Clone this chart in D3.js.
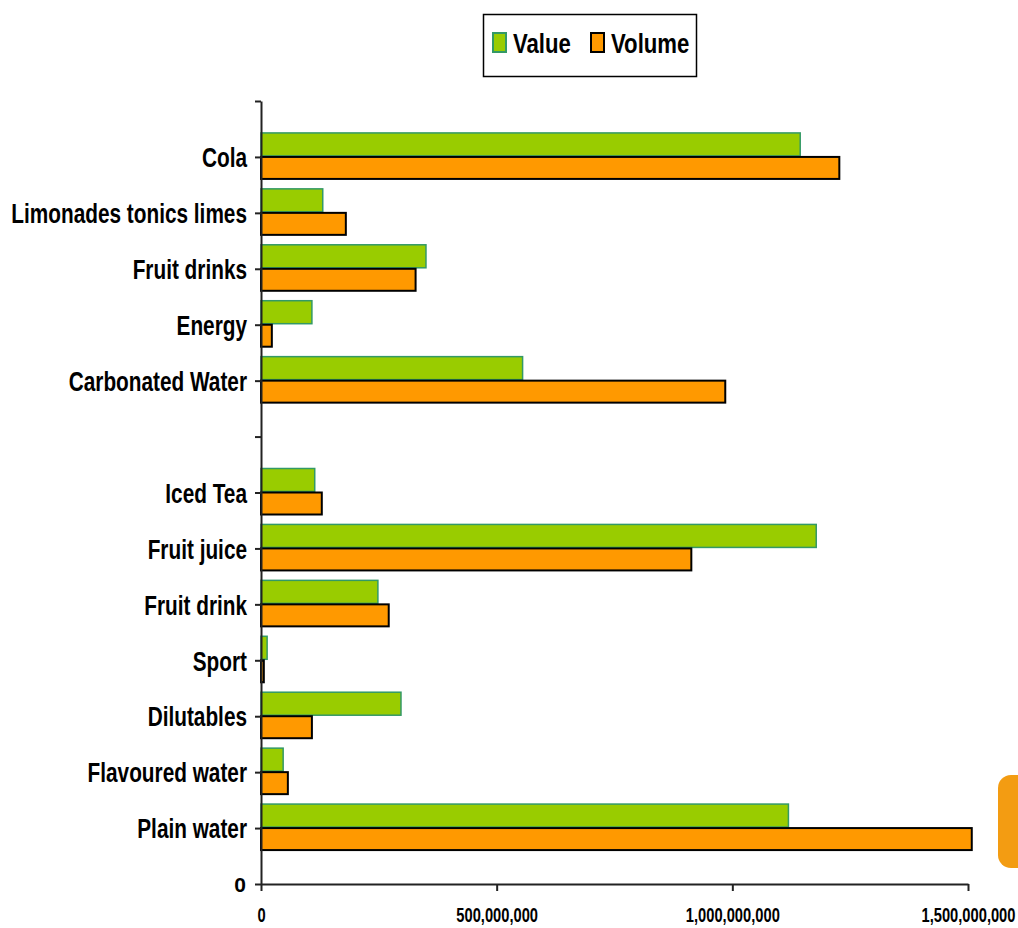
<!DOCTYPE html>
<html>
<head>
<meta charset="utf-8">
<script src="https://cdn.jsdelivr.net/npm/d3@7/dist/d3.min.js"></script>
<style>
  body { margin: 0; background: #fff; }
  text { font-family: "Liberation Sans", Arial, sans-serif; font-weight: bold; fill: #000; }
</style>
</head>
<body>
<svg id="chart" width="1018" height="928"></svg>
<script>
// categories from bottom (position 1) to top (position 13); "" is the empty gap row
var categories = ["Plain water", "Flavoured water", "Dilutables", "Sport", "Fruit drink",
    "Fruit juice", "Iced Tea", "", "Carbonated Water", "Energy", "Fruit drinks",
    "Limonades tonics limes", "Cola"];
var valueSeries = [1119e6, 47e6, 297e6, 13e6, 248e6, 1178e6, 114e6, null,
    555e6, 108e6, 350e6, 131e6, 1144e6];
var volumeSeries = [1508e6, 57e6, 108e6, 6e6, 271e6, 913e6, 129e6, null,
    985e6, 23e6, 328e6, 180e6, 1227e6];
var xTicks = [0, 500e6, 1000e6, 1500e6];
var legendLabels = ["Value", "Volume"];

var svg = d3.select('#chart');

// shrink text horizontally, keeping its anchor
function condense(sel, k) {
    sel.each(function() {
        var w = this.getComputedTextLength();
        d3.select(this).attr('textLength', w * k).attr('lengthAdjust', 'spacingAndGlyphs');
    });
}

var x = d3.scaleLinear().domain([0, 1500e6]).range([261, 968]);
var y = d3.scaleLinear().domain([0, 14]).range([884, 101]);

var rows = categories.map(function(c, i) {
    return {name: c, pos: i + 1, value: valueSeries[i], volume: volumeSeries[i]};
}).filter(function(d) { return d.value !== null; });

// bars
var barH = 23;
svg.append('g').selectAll('rect.value')
    .data(rows).enter().append('rect')
    .attr('x', x(0))
    .attr('y', function(d) { return y(d.pos) - barH - 1; })
    .attr('width', function(d) { return x(d.value) - x(0); })
    .attr('height', barH)
    .attr('fill', '#99cc00')
    .attr('stroke', '#339966')
    .attr('stroke-width', 1.5);

svg.append('g').selectAll('rect.volume')
    .data(rows).enter().append('rect')
    .attr('x', x(0))
    .attr('y', function(d) { return y(d.pos); })
    .attr('width', function(d) { return x(d.volume) - x(0); })
    .attr('height', barH - 1)
    .attr('fill', '#ff9900')
    .attr('stroke', '#000')
    .attr('stroke-width', 2);

// y axis
var yLabels = ["0"].concat(categories, [""]);
var yAxis = svg.append('g')
    .attr('transform', 'translate(' + x(0) + ',0)')
    .call(d3.axisLeft(y)
        .tickValues(d3.range(0, 15))
        .tickSize(6)
        .tickSizeOuter(0)
        .tickPadding(8)
        .tickFormat(function(d) { return yLabels[d]; }));
yAxis.selectAll('text')
    .style('font-size', '27px')
    .attr('dy', '0.36em');
yAxis.selectAll('.tick').filter(function(d) { return d > 0; }).select('text')
    .call(condense, 0.77);
yAxis.selectAll('.tick').filter(function(d) { return d === 0; }).select('text')
    .style('font-size', '21px').attr('x', -15);

// x axis; labels squeezed with a transform so they stay centred on the tick
var xAxis = svg.append('g')
    .attr('transform', 'translate(0,' + y(0) + ')')
    .call(d3.axisBottom(x)
        .tickValues(xTicks)
        .tickSize(7)
        .tickSizeOuter(0)
        .tickPadding(16)
        .tickFormat(d3.format(',')));
xAxis.selectAll('text')
    .style('font-size', '21px')
    .attr('transform', 'scale(0.7,1)');

svg.selectAll('.domain, .tick line').attr('stroke', '#222').attr('stroke-width', 2);

// legend
var legend = svg.append('g');
legend.append('rect')
    .attr('x', 483.5).attr('y', 14.5).attr('width', 213).attr('height', 62)
    .attr('fill', '#fff').attr('stroke', '#000').attr('stroke-width', 1.5);
var legendItems = [
    {label: legendLabels[0], fill: '#99cc00', stroke: '#339966', sx: 493, tx: 513},
    {label: legendLabels[1], fill: '#ff9900', stroke: '#000', sx: 591, tx: 611}
];
legendItems.forEach(function(it) {
    legend.append('rect')
        .attr('x', it.sx).attr('y', 33).attr('width', 13).attr('height', 19)
        .attr('fill', it.fill).attr('stroke', it.stroke).attr('stroke-width', 2);
    legend.append('text')
        .attr('x', it.tx).attr('y', 53)
        .style('font-size', '27px')
        .text(it.label)
        .call(condense, 0.82);
});

// decorative orange tab at the right edge
svg.append('rect')
    .attr('x', 998).attr('y', 775).attr('width', 40).attr('height', 93)
    .attr('rx', 13).attr('fill', '#f39c12');
</script>
</body>
</html>
